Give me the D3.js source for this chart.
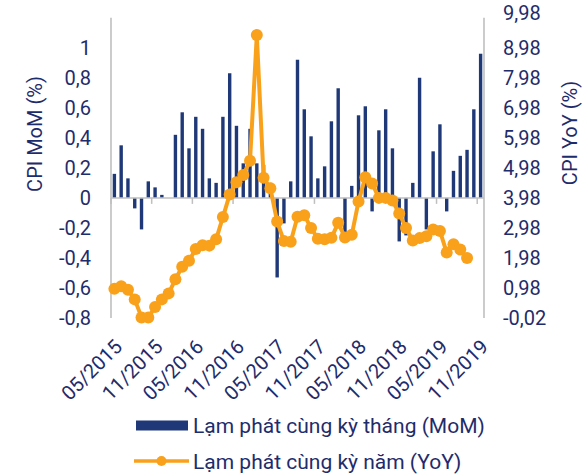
<!DOCTYPE html>
<html>
<head>
<meta charset="utf-8">
<script src="https://cdn.jsdelivr.net/npm/d3@7"></script>
<style>
  html, body { margin: 0; padding: 0; background: #fff; }
  svg { display: block; font-family: Roboto, "Noto Sans", sans-serif; }
</style>
</head>
<body>
<svg id="chart" width="586" height="474"></svg>
<script>
// Monthly categories, 05/2015 – 11/2019
const months = [
  "05/2015","06/2015","07/2015","08/2015","09/2015","10/2015","11/2015","12/2015",
  "01/2016","02/2016","03/2016","04/2016","05/2016","06/2016","07/2016","08/2016","09/2016","10/2016","11/2016","12/2016",
  "01/2017","02/2017","03/2017","04/2017","05/2017","06/2017","07/2017","08/2017","09/2017","10/2017","11/2017","12/2017",
  "01/2018","02/2018","03/2018","04/2018","05/2018","06/2018","07/2018","08/2018","09/2018","10/2018","11/2018","12/2018",
  "01/2019","02/2019","03/2019","04/2019","05/2019","06/2019","07/2019","08/2019","09/2019","10/2019","11/2019"
];

// CPI month-on-month (%), left axis
const cpiMoM = [
  0.16, 0.35, 0.13, -0.07, -0.21, 0.11, 0.07, 0.02,
  0.00, 0.42, 0.57, 0.33, 0.54, 0.46, 0.13, 0.10, 0.54, 0.83, 0.48, 0.23,
  0.46, 0.23, 0.22, 0.10, -0.53, -0.17, 0.11, 0.92, 0.59, 0.41, 0.13, 0.21,
  0.51, 0.73, -0.27, 0.08, 0.55, 0.61, -0.09, 0.45, 0.59, 0.33, -0.29, -0.25,
  0.10, 0.80, -0.21, 0.31, 0.49, -0.09, 0.18, 0.28, 0.32, 0.59, 0.96
];

// CPI year-on-year (%), right axis (05/2015 – 09/2019)
const cpiYoY = [
  0.95, 1.04, 0.92, 0.60, 0.00, 0.00, 0.35, 0.60,
  0.80, 1.27, 1.69, 1.89, 2.28, 2.40, 2.39, 2.60, 3.34, 4.09, 4.50, 4.74,
  5.22, 9.40, 4.65, 4.30, 3.19, 2.54, 2.52, 3.35, 3.40, 2.98, 2.62, 2.60,
  2.65, 3.15, 2.66, 2.75, 3.86, 4.67, 4.46, 3.98, 3.98, 3.89, 3.46, 2.98,
  2.56, 2.64, 2.70, 2.93, 2.88, 2.16, 2.44, 2.26, 1.98
];

const leftTicks  = [-0.8, -0.6, -0.4, -0.2, 0, 0.2, 0.4, 0.6, 0.8, 1];
const rightTicks = [-0.02, 0.98, 1.98, 2.98, 3.98, 4.98, 5.98, 6.98, 7.98, 8.98, 9.98];
const labelMonths = ["05/2015","11/2015","05/2016","11/2016","05/2017","11/2017","05/2018","11/2018","05/2019","11/2019"];

const legendLabels = ["Lạm phát cùng kỳ tháng (MoM)", "Lạm phát cùng kỳ năm (YoY)"];

const NAVY = "#1f3877";
const TEXT = "#1f2c6b";
const ORANGE = "#f9a11b";
const GRID = "#bfbfbf";

const svg = d3.select("#chart");
const plot = { left: 111, right: 484, top: 17.7, bottom: 318 };

const locale = d3.formatLocale({ decimal: ",", thousands: ".", grouping: [3], currency: ["", ""], minus: "-" });
const fmtL = v => v === 0 ? "0" : (Math.abs(v - Math.round(v)) < 1e-9 ? String(Math.round(v)) : locale.format(".1f")(v));
const fmtR = locale.format(".2f");

const x = d3.scaleBand().domain(months).range([plot.left, plot.right]).paddingInner(0.5).paddingOuter(0.25);
const yL = d3.scaleLinear().domain([-0.8, 1.2]).range([plot.bottom, plot.top]);
const yR = d3.scaleLinear().domain([-0.02, 9.98]).range([plot.bottom, plot.top]);
const cx = m => x(m) + x.bandwidth() / 2;

// Bars (MoM)
svg.append("g").selectAll("rect").data(cpiMoM).join("rect")
  .attr("x", (d, i) => x(months[i]))
  .attr("width", x.bandwidth())
  .attr("y", d => yL(Math.max(0, d)))
  .attr("height", d => Math.abs(yL(d) - yL(0)))
  .attr("fill", NAVY);

// Zero (category) axis line with ticks every 6 months
const zeroY = yL(0);
svg.append("line").attr("x1", plot.left).attr("x2", plot.right)
  .attr("y1", zeroY).attr("y2", zeroY).attr("stroke", GRID).attr("stroke-width", 1.5);
const step = x.step();
svg.append("g").selectAll("line").data(d3.range(0, months.length, 6)).join("line")
  .attr("x1", i => plot.left + i * step).attr("x2", i => plot.left + i * step)
  .attr("y1", zeroY).attr("y2", zeroY + 6)
  .attr("stroke", GRID).attr("stroke-width", 1.5);

// Left axis
const axL = svg.append("g").attr("transform", `translate(${plot.left},0)`)
  .call(d3.axisLeft(yL).tickValues(leftTicks).tickFormat(fmtL).tickSize(0).tickPadding(20));
axL.select(".domain").attr("stroke", GRID).attr("stroke-width", 1.6)
  .attr("d", `M0,${plot.top}V${plot.bottom}`);
axL.selectAll("text").attr("fill", TEXT).attr("font-size", 20).attr("font-family", "Roboto");

// Right axis
const axR = svg.append("g").attr("transform", `translate(${plot.right},0)`)
  .call(d3.axisRight(yR).tickValues(rightTicks).tickFormat(fmtR).tickSize(0).tickPadding(19));
axR.select(".domain").attr("stroke", GRID).attr("stroke-width", 1.6)
  .attr("d", `M0,${plot.top}V${plot.bottom}`);
axR.selectAll("text").attr("fill", TEXT).attr("font-size", 20).attr("font-family", "Roboto");
// top label sits just under the upper edge
axR.selectAll(".tick").filter(d => d === 9.98).select("text").attr("dy", "0.07em");

// Axis titles
svg.append("text").attr("transform", "translate(35,134) rotate(-90)")
  .attr("text-anchor", "middle").attr("dominant-baseline", "central")
  .attr("fill", TEXT).attr("font-size", 20).text("CPI MoM (%)");
svg.append("text").attr("transform", "translate(570,133) rotate(-90)")
  .attr("text-anchor", "middle").attr("dominant-baseline", "central")
  .attr("fill", TEXT).attr("font-size", 20).text("CPI YoY (%)");

// Rotated month labels
svg.append("g").selectAll("text").data(labelMonths).join("text")
  .attr("transform", m => `translate(${cx(m) + 4},343) rotate(-45)`)
  .attr("text-anchor", "end").attr("dy", "0.35em")
  .attr("fill", TEXT).attr("font-size", 20).text(m => m);

// YoY line with markers
const yoyPts = cpiYoY.map((v, i) => [cx(months[i]), yR(v)]);
svg.append("path").datum(yoyPts)
  .attr("d", d3.line())
  .attr("fill", "none").attr("stroke", ORANGE).attr("stroke-width", 4).attr("stroke-linejoin", "round");
svg.append("g").selectAll("circle").data(yoyPts).join("circle")
  .attr("cx", d => d[0]).attr("cy", d => d[1]).attr("r", 6).attr("fill", ORANGE);

// Legend
const lg = svg.append("g");
lg.append("rect").attr("x", 136).attr("y", 420.5).attr("width", 52).attr("height", 10).attr("fill", NAVY);
lg.append("text").attr("x", 193).attr("y", 425.5).attr("dominant-baseline", "central")
  .attr("fill", TEXT).attr("font-size", 21).text(legendLabels[0]);
lg.append("line").attr("x1", 134).attr("x2", 189).attr("y1", 461).attr("y2", 461)
  .attr("stroke", ORANGE).attr("stroke-width", 3.3);
lg.append("circle").attr("cx", 161.5).attr("cy", 461).attr("r", 5).attr("fill", ORANGE);
lg.append("text").attr("x", 193).attr("y", 461.5).attr("dominant-baseline", "central")
  .attr("fill", TEXT).attr("font-size", 21).text(legendLabels[1]);
</script>
</body>
</html>
